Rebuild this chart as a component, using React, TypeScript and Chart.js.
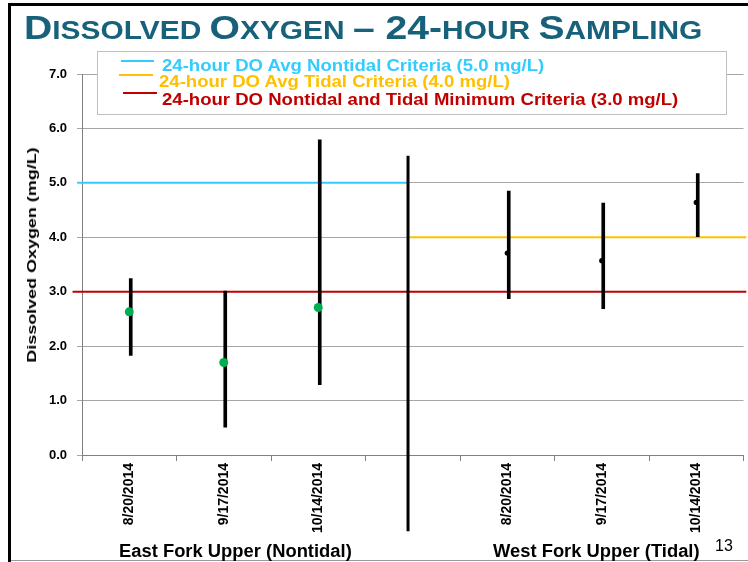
import React, { useEffect, useRef } from "react";
import { Chart, registerables } from "chart.js";

Chart.register(...registerables);

// ---------- data ----------
const categories = ["8/20/2014", "9/17/2014", "10/14/2014", "", "8/20/2014", "9/17/2014", "10/14/2014"];
const doMean = [2.63, 1.70, 2.71, null, 3.71, 3.57, 4.64];
const doMin = [1.83, 0.51, 1.29, null, 2.87, 2.69, 4.01];
const doMax = [3.24, 3.01, 5.79, null, 4.85, 4.63, 5.17];
const siteGroups = ["East Fork Upper (Nontidal)", "West Fork Upper (Tidal)"];
const yTickValues = [0, 1, 2, 3, 4, 5, 6, 7];

const criteriaLabels = [
  "24-hour DO Avg Nontidal Criteria (5.0 mg/L)",
  "24-hour DO Avg Tidal Criteria (4.0 mg/L)",
  "24-hour DO Nontidal and Tidal Minimum Criteria (3.0 mg/L)",
];
const criteriaValues = [5.0, 4.0, 3.0];
const criteriaColors = ["#33CCFF", "#FFC000", "#C00000"];
// extent of each criteria line in category-slot units (0 = left edge, 7 = right edge)
const criteriaFrom = [-0.05, 3.45, -0.1];
const criteriaTo = [3.45, 7.03, 7.03];

// separator between the two sites (slot units / mg/L)
const separatorX = 3.45;
const separatorTop = 5.5;
const separatorBottom = -1.4;

const pageNumber = "13";

const FONT = "'Liberation Sans', Arial, Helvetica, sans-serif";

export default function App() {
  const canvasRef = useRef<HTMLCanvasElement | null>(null);

  useEffect(() => {
    document.body.style.margin = "0";
    const canvas = canvasRef.current;
    if (!canvas) return;

    const criteriaDatasets = criteriaValues.map((v, i) => ({
      type: "line" as const,
      label: criteriaLabels[i],
      xAxisID: "x2",
      data: [
        { x: criteriaFrom[i], y: v },
        { x: criteriaTo[i], y: v },
      ],
      borderColor: criteriaColors[i],
      borderWidth: 2,
      pointRadius: 0,
      clip: false as const,
      order: 5,
    }));

    const chart = new Chart(canvas, {
      type: "bar",
      data: {
        labels: categories,
        datasets: [
          ...criteriaDatasets,
          {
            type: "line",
            label: "separator",
            xAxisID: "x2",
            data: [
              { x: separatorX, y: separatorTop },
              { x: separatorX, y: separatorBottom },
            ],
            borderColor: "#000000",
            borderWidth: 3,
            pointRadius: 0,
            clip: false,
            order: 4,
          } as any,
          {
            type: "bar",
            label: "range",
            xAxisID: "x",
            data: doMin.map((m, i) => (m == null || doMax[i] == null ? null : [m, doMax[i] as number])) as any,
            backgroundColor: "#000000",
            borderWidth: 0,
            barThickness: 3,
            order: 3,
          },
          {
            type: "line",
            label: "mean",
            xAxisID: "x",
            data: doMean as any,
            showLine: false,
            pointRadius: doMean.map((_, i) => (i < 3 ? 4.5 : 2.6)),
            pointBackgroundColor: doMean.map((_, i) => (i < 3 ? "#00B050" : "#000000")),
            pointBorderWidth: 0,
            order: 1,
          } as any,
        ],
      },
      options: {
        responsive: false,
        animation: false,
        devicePixelRatio: 1,
        layout: { padding: { top: 74, right: 2, bottom: 0, left: 0 } },
        plugins: {
          legend: { display: false },
          tooltip: { enabled: false },
        },
        scales: {
          x: {
            type: "category",
            offset: true,
            grid: {
              offset: true,
              drawOnChartArea: false,
              drawTicks: true,
              tickLength: 6,
              color: "#808080",
            },
            border: { color: "#808080", width: 1 },
            ticks: {
              autoSkip: false,
              minRotation: 90,
              maxRotation: 90,
              padding: 2,
              color: "#000000",
              font: { family: FONT, size: 14, weight: "bold" },
            },
            afterFit: (s: any) => {
              s.height = 107;
            },
          },
          x2: {
            type: "linear",
            display: false,
            offset: false,
            grid: { offset: false },
            min: 0,
            max: 7,
          },
          y: {
            min: 0,
            max: 7,
            afterBuildTicks: (s: any) => {
              s.ticks = yTickValues.map((v) => ({ value: v }));
            },
            ticks: {
              padding: 10,
              color: "#000000",
              callback: (v: any) => Number(v).toFixed(1),
              font: { family: FONT, size: 13, weight: "bold" },
            },
            grid: { color: "#A6A6A6", lineWidth: 1, tickLength: 5 },
            border: { color: "#808080", width: 1 },
            afterFit: (s: any) => {
              s.width = 82;
            },
          },
        },
      } as any,
    });

    return () => chart.destroy();
  }, []);

  const abs = (o: React.CSSProperties): React.CSSProperties => ({ position: "absolute", ...o });
  const big: React.CSSProperties = { fontSize: 34 };
  const small: React.CSSProperties = { fontSize: 26 };

  const legendTops = [58.2, 73.8, 91.5];
  const legendLefts = [161.5, 158.5, 161.5];
  const lineTops = [59.7, 74, 91.7];
  const lineLefts = [121, 119, 123];
  const lineWidths = [33, 34, 34];

  return (
    <div style={{ position: "relative", width: 748, height: 562, overflow: "hidden", background: "#fff", fontFamily: FONT }}>
      <canvas ref={canvasRef} width={748} height={562} style={abs({ left: 0, top: 0 })} />

      {/* slide frame */}
      <div style={abs({ left: 8, top: 3, width: 740, height: 2.5, background: "#000" })} />
      <div style={abs({ left: 8, top: 3, width: 3, height: 559, background: "#000" })} />
      <div style={abs({ left: 11, top: 559.5, width: 737, height: 1.5, background: "#9a9a9a" })} />

      {/* title */}
      <div
        style={abs({
          left: 24,
          top: 10,
          fontSize: 34,
          lineHeight: "34px",
          fontWeight: "bold",
          color: "#17627A",
          whiteSpace: "nowrap",
          transform: "scaleX(1.15)",
          transformOrigin: "left top",
        })}
      >
        <span style={big}>D</span>
        <span style={small}>ISSOLVED </span>
        <span style={big}>O</span>
        <span style={small}>XYGEN </span>
        <span style={big}>– 24-</span>
        <span style={small}>HOUR </span>
        <span style={big}>S</span>
        <span style={small}>AMPLING</span>
      </div>

      {/* legend */}
      <div
        style={abs({
          left: 97,
          top: 51,
          width: 630,
          height: 64,
          boxSizing: "border-box",
          border: "1.5px solid #BFBFBF",
          background: "#fff",
        })}
      />
      {criteriaLabels.map((t, i) => (
        <React.Fragment key={t}>
          <div style={abs({ left: lineLefts[i], top: lineTops[i], width: lineWidths[i], height: 2, background: criteriaColors[i] })} />
          <div
            style={abs({
              left: legendLefts[i],
              top: legendTops[i],
              fontSize: 16,
              lineHeight: "16px",
              fontWeight: "bold",
              color: criteriaColors[i],
              whiteSpace: "nowrap",
              transform: "scaleX(1.16)",
              transformOrigin: "left top",
            })}
          >
            {t}
          </div>
        </React.Fragment>
      ))}

      {/* y axis title */}
      <div
        style={abs({
          left: 31.5,
          top: 255,
          fontSize: 13,
          lineHeight: "14px",
          fontWeight: "bold",
          color: "#000",
          whiteSpace: "nowrap",
          transform: "translate(-50%, -50%) rotate(-90deg) scaleX(1.38)",
        })}
      >
        Dissolved Oxygen (mg/L)
      </div>

      {/* site group labels */}
      {siteGroups.map((g, i) => (
        <div
          key={g}
          style={abs({
            left: i === 0 ? 119 : 492.7,
            top: 541.6,
            fontSize: 17.5,
            lineHeight: "18px",
            fontWeight: "bold",
            color: "#000",
            whiteSpace: "nowrap",
            transform: "scaleX(1.05)",
            transformOrigin: "left top",
          })}
        >
          {g}
        </div>
      ))}

      <div style={abs({ left: 715, top: 538, fontSize: 16, lineHeight: "16px", color: "#000" })}>{pageNumber}</div>
    </div>
  );
}
